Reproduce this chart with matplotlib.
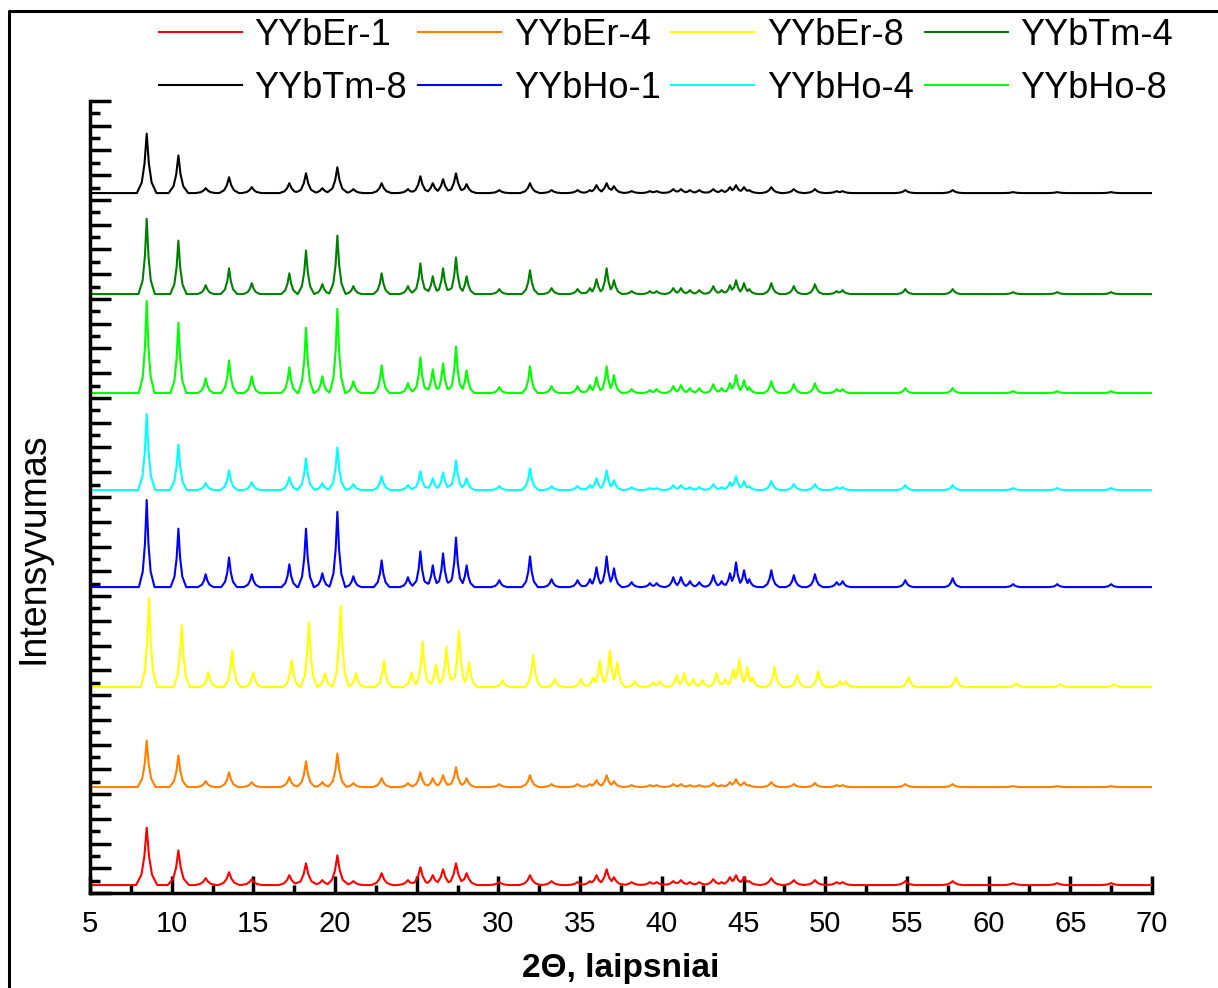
import numpy as np
import matplotlib
matplotlib.use("Agg")
import matplotlib.pyplot as plt
from matplotlib.lines import Line2D
from matplotlib.ticker import MultipleLocator

plt.rcParams['font.family'] = ['Liberation Sans', 'DejaVu Sans']

# ---------------- data ----------------
series_names = ["YYbEr-1", "YYbEr-4", "YYbEr-8", "YYbHo-1",
                "YYbHo-4", "YYbHo-8", "YYbTm-4", "YYbTm-8"]
series_colors = ["#FF0000", "#FF8000", "#FFFF00", "#0000FF",
                 "#00FFFF", "#00FF00", "#008000", "#000000"]
# vertical offsets (baselines) of stacked patterns
baselines = [8, 107, 208, 309, 407, 505, 605, 707]

# common peak positions (2theta, deg)
peaks_2theta = [8.47, 10.41, 12.08, 13.51, 14.9, 17.2, 18.22, 19.22,
                20.14, 21.12, 22.85, 24.46, 25.22, 25.98, 26.61, 27.4,
                28.05, 30.05, 31.93, 33.25, 34.84, 35.6, 36.0, 36.62,
                37.07, 38.15, 39.27, 39.68, 40.7, 41.17, 41.72, 42.29,
                43.15, 43.66, 44.17, 44.54, 45.03, 45.35, 46.7, 48.08,
                49.37, 50.7, 51.06, 54.9, 57.8, 61.5, 64.2, 67.5]
# YYbEr-8 pattern is slightly shifted
peaks_2theta_er8 = [8.61, 10.61, 12.24, 13.70, 14.99, 17.34, 18.40, 19.38,
                    20.34, 21.28, 22.99, 24.68, 25.36, 26.17, 26.82, 27.58,
                    28.2, 30.25, 32.13, 33.45, 35.04, 35.8, 36.2, 36.82,
                    37.27, 38.35, 39.47, 39.88, 40.9, 41.37, 41.92, 42.49,
                    43.35, 43.86, 44.37, 44.74, 45.23, 45.55, 46.9, 48.28,
                    49.57, 50.9, 51.26, 55.1, 58.0, 61.7, 64.4, 67.7]

int_er1 = [58, 35, 7, 13, 6, 10, 22, 5,
           30, 4, 12, 5, 18, 10, 16, 22,
           12, 3, 10, 4, 3, 4, 10, 16,
           8, 3, 3, 3, 4, 5, 3, 3,
           6, 3, 8, 10, 8, 4, 7, 5,
           5, 3, 3, 4, 4, 2, 2, 2]
int_er4 = [47, 32, 6, 15, 5, 10, 26, 5,
           34, 4, 9, 4, 15, 9, 12, 20,
           9, 3, 12, 3, 3, 3, 7, 12,
           6, 2, 2, 2, 3, 3, 2, 2,
           4, 2, 5, 8, 5, 2, 5, 3,
           4, 2, 2, 3, 3, 1, 1, 1]
int_er8 = [90, 63, 15, 37, 15, 27, 65, 14,
           82, 14, 27, 15, 46, 23, 41, 56,
           25, 7, 32, 8, 8, 10, 27, 37,
           25, 6, 5, 6, 12, 14, 8, 7,
           14, 8, 18, 28, 20, 10, 20, 12,
           16, 6, 6, 10, 10, 4, 3, 3]
int_ho1 = [88, 59, 13, 30, 13, 23, 59, 14,
           76, 11, 27, 10, 36, 22, 34, 50,
           22, 7, 31, 8, 7, 8, 20, 31,
           19, 5, 4, 4, 10, 10, 6, 5,
           12, 6, 14, 25, 17, 8, 17, 12,
           13, 5, 6, 7, 9, 3, 3, 3]
int_ho4 = [77, 46, 7, 20, 8, 13, 32, 7,
           43, 6, 14, 5, 19, 12, 18, 30,
           12, 4, 22, 4, 4, 5, 12, 20,
           10, 3, 2, 2, 5, 5, 3, 3,
           6, 3, 8, 14, 9, 4, 9, 6,
           6, 3, 3, 5, 5, 2, 2, 2]
int_ho8 = [93, 71, 15, 33, 17, 26, 66, 17,
           85, 12, 28, 10, 36, 24, 30, 47,
           23, 6, 27, 7, 7, 8, 16, 27,
           18, 4, 3, 4, 7, 8, 5, 5,
           9, 5, 10, 18, 13, 6, 12, 9,
           10, 4, 4, 5, 5, 2, 2, 2]
int_tm4 = [76, 54, 9, 26, 11, 21, 44, 10,
           59, 8, 21, 8, 31, 18, 26, 37,
           18, 5, 24, 6, 5, 6, 15, 26,
           14, 3, 3, 3, 6, 6, 4, 4,
           8, 4, 9, 14, 11, 5, 11, 8,
           10, 3, 4, 5, 5, 2, 2, 2]
int_tm8 = [60, 38, 5, 16, 6, 10, 20, 5,
           26, 4, 10, 4, 17, 10, 14, 20,
           9, 3, 10, 3, 3, 3, 8, 10,
           7, 2, 2, 2, 4, 4, 3, 3,
           4, 3, 6, 8, 6, 3, 6, 4,
           4, 2, 2, 3, 3, 1, 1, 1]

series_positions = [peaks_2theta, peaks_2theta, peaks_2theta_er8, peaks_2theta,
                    peaks_2theta, peaks_2theta, peaks_2theta, peaks_2theta]
series_intensities = [int_er1, int_er4, int_er8, int_ho1,
                      int_ho4, int_ho8, int_tm4, int_tm8]
series_halfwidth = [0.65, 0.55, 0.5, 0.48, 0.52, 0.48, 0.5, 0.6]

x_ticks = [5, 10, 15, 20, 25, 30, 35, 40, 45, 50, 55, 60, 65, 70]


def pattern(pos, heights, base, w):
    """Polyline through the read peak tops (foot, shoulders, top, shoulders, foot)."""
    offs = np.array([-1.0, -0.5, -0.22, 0.0, 0.22, 0.5, 1.0]) * w
    frac = np.array([0.0, 0.18, 0.5, 1.0, 0.5, 0.18, 0.0])
    xs = [5.0, 70.0]
    for p in pos:
        xs.extend(p + offs)
    xs = np.unique(np.array(xs))
    xs = xs[(xs >= 5) & (xs <= 70)]
    ys = np.zeros_like(xs)
    for p, h in zip(pos, heights):
        ys = np.maximum(ys, np.interp(xs, p + offs, h * frac, left=0, right=0))
    return xs, ys + base


# ---------------- figure ----------------
W, H = 1218, 988
fig = plt.figure(figsize=(W / 100, H / 100), dpi=100)
ax = fig.add_axes([90 / W, (H - 893) / H, (1152 - 90) / W, (893 - 101) / H])

handles = {}
for name, col, pos, ints, base, w in zip(series_names, series_colors, series_positions,
                                          series_intensities, baselines, series_halfwidth):
    xs, ys = pattern(pos, ints, base, w)
    ln, = ax.plot(xs, ys, color=col, lw=1.5)
    handles[name] = ln

ax.set_xlim(5, 70)
ax.set_ylim(0, 800)
ax.set_xticks(x_ticks)
ax.xaxis.set_minor_locator(MultipleLocator(2.5))
ax.yaxis.set_major_locator(MultipleLocator(25))
ax.yaxis.set_minor_locator(MultipleLocator(12.5))
ax.tick_params(axis='y', which='major', direction='in', length=15, width=2.5, labelleft=False)
ax.tick_params(axis='y', which='minor', direction='in', length=7, width=2.5)
ax.tick_params(axis='x', which='major', direction='in', length=12, width=2.5,
               labelsize=21, pad=12)
ax.tick_params(axis='x', which='minor', direction='in', length=6, width=2.5)
for s in ['top', 'right']:
    ax.spines[s].set_visible(False)
for s in ['left', 'bottom']:
    ax.spines[s].set_linewidth(2.5)

ax.set_xlabel("2Θ, laipsniai", fontsize=24, fontweight='bold', labelpad=11)
ax.set_ylabel("Intensyvumas", fontsize=27)
ax.yaxis.set_label_coords(-0.036, 0.436)

# legend: row-major order (2 rows x 4 columns)
order = ["YYbEr-1", "YYbTm-8", "YYbEr-4", "YYbHo-1",
         "YYbEr-8", "YYbHo-4", "YYbTm-4", "YYbHo-8"]
fig.legend([handles[n] for n in order], order, ncol=4, loc='center',
           bbox_to_anchor=(666 / W, 1 - 62 / H), frameon=False, fontsize=26,
           handlelength=2.3, handletextpad=0.35, columnspacing=0.3,
           labelspacing=0.5)

# outer frame (left and top edges visible)
fig.add_artist(Line2D([9 / W, 9 / W, 1.0], [0.0, 1 - 11 / H, 1 - 11 / H],
                      transform=fig.transFigure, color='black', lw=2.2))

fig.savefig("out.png", dpi=100)
